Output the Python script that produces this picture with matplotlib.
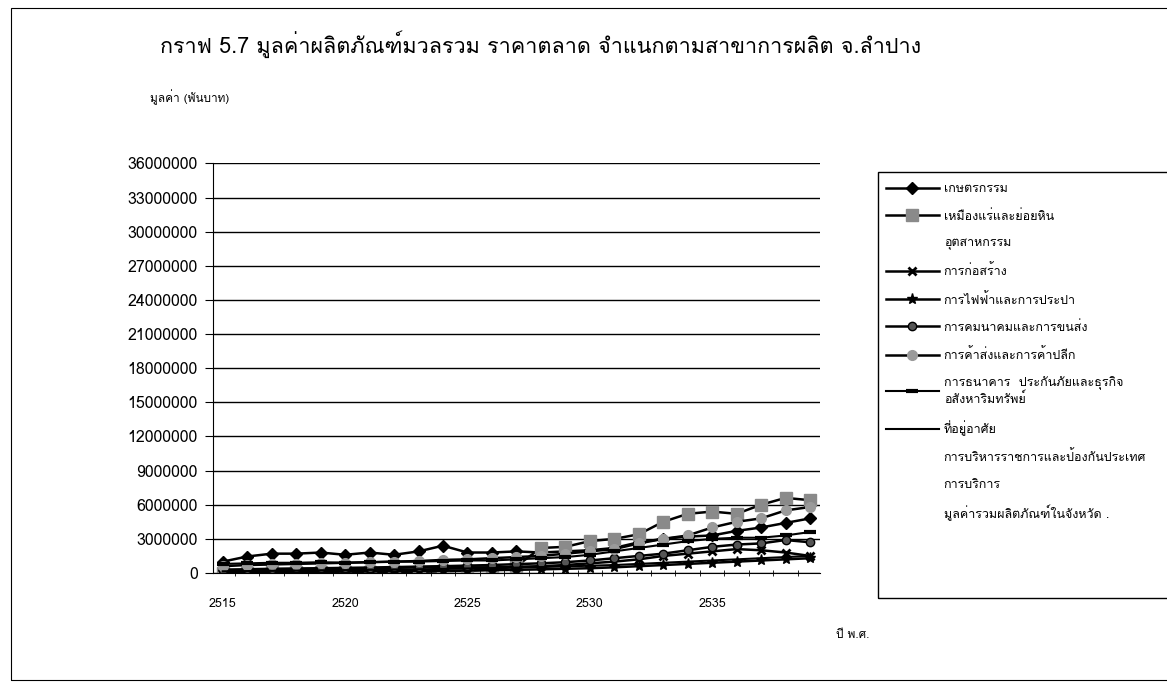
import matplotlib
matplotlib.use("Agg")
from matplotlib import pyplot as plt
from matplotlib import font_manager as fm
from matplotlib.ft2font import FT2Font
from matplotlib.lines import Line2D
from matplotlib.patches import Rectangle


def thai_font():
    """Find an installed family that has Thai glyphs."""
    for f in fm.fontManager.ttflist:
        if "CJK" in f.fname:
            continue
        try:
            if 0x0E01 in FT2Font(f.fname).get_charmap():
                return f.name
        except Exception:
            pass
    return "DejaVu Sans"


thai = thai_font()
plt.rcParams['font.family'] = [thai, 'DejaVu Sans']

# years (Buddhist era)
years = list(range(2515, 2540))

# value (thousand baht) by branch
agri = [1000000, 1450000, 1700000, 1700000, 1800000, 1600000, 1800000, 1600000, 1900000,
        2400000, 1800000, 1800000, 1900000, 1800000, 1900000, 2000000, 2200000, 2700000,
        3000000, 3200000, 3300000, 3700000, 4000000, 4400000, 4800000]
mining = [30000, 40000, 50000, 50000, 60000, 60000, 80000, 90000, 100000, 150000, 200000,
          300000, 600000, 2200000, 2300000, 2800000, 3000000, 3400000, 4500000, 5200000,
          5400000, 5200000, 6000000, 6600000, 6400000]
construction = [200000, 250000, 300000, 300000, 320000, 350000, 400000, 450000, 500000,
                550000, 500000, 500000, 550000, 600000, 700000, 850000, 1000000, 1200000,
                1500000, 1700000, 1900000, 2100000, 2000000, 1800000, 1500000]
electricity = [50000, 60000, 70000, 80000, 100000, 120000, 140000, 160000, 180000, 200000,
               220000, 250000, 280000, 320000, 370000, 420000, 500000, 600000, 700000,
               800000, 900000, 1000000, 1100000, 1200000, 1300000]
transport = [300000, 330000, 370000, 400000, 420000, 450000, 480000, 520000, 560000, 600000,
             650000, 700000, 780000, 850000, 950000, 1100000, 1300000, 1500000, 1700000,
             2000000, 2300000, 2500000, 2600000, 2900000, 2700000]
wholesale = [600000, 700000, 750000, 800000, 850000, 900000, 950000, 1000000, 1050000,
             1150000, 1200000, 1300000, 1400000, 1500000, 1700000, 1900000, 2100000,
             2600000, 3000000, 3300000, 4000000, 4500000, 4800000, 5500000, 5800000]
banking = [800000, 850000, 900000, 900000, 950000, 900000, 950000, 1000000, 1000000,
           1050000, 1100000, 1100000, 1200000, 1300000, 1400000, 1600000, 1900000, 2200000,
           2500000, 2800000, 3000000, 3100000, 3100000, 3300000, 3600000]
dwelling = [150000, 170000, 190000, 210000, 230000, 250000, 280000, 300000, 330000, 360000,
            400000, 430000, 470000, 520000, 580000, 640000, 700000, 800000, 900000, 1000000,
            1100000, 1200000, 1300000, 1400000, 1500000]

labels = ["เกษตรกรรม", "เหมืองแร่และย่อยหิน", "อุตสาหกรรม", "การก่อสร้าง",
          "การไฟฟ้าและการประปา", "การคมนาคมและการขนส่ง", "การค้าส่งและการค้าปลีก",
          "การธนาคาร  ประกันภัยและธุรกิจ\nอสังหาริมทรัพย์", "ที่อยู่อาศัย",
          "การบริหารราชการและป้องกันประเทศ", "การบริการ", "มูลค่ารวมผลิตภัณฑ์ในจังหวัด ."]
y_ticks = list(range(0, 36000001, 3000000))
x_ticks = [2515, 2520, 2525, 2530, 2535]

fig = plt.figure(figsize=(11.67, 6.85), dpi=100)
ax = fig.add_axes([0.1825, 0.1635, 0.52, 0.598])

h_agri, = ax.plot(years, agri, c='black', lw=1.8, marker='D', ms=6)
h_mine, = ax.plot(years, mining, c='black', lw=1.8, marker='s', ms=8,
                  mfc='#8a8a8a', mec='#8a8a8a')
h_cons, = ax.plot(years, construction, c='black', lw=1.8, marker='x', ms=6, mew=2)
h_elec, = ax.plot(years, electricity, c='black', lw=1.8, marker='*', ms=8)
h_tran, = ax.plot(years, transport, c='black', lw=1.8, marker='o', ms=6,
                  mfc='#555555', mec='black')
h_whol, = ax.plot(years, wholesale, c='black', lw=1.8, marker='o', ms=7,
                  mfc='#9a9a9a', mec='#9a9a9a')
h_bank, = ax.plot(years, banking, c='black', lw=1.5, marker='_', ms=9, mew=3)
h_dwel, = ax.plot(years, dwelling, c='black', lw=1.5)
blank = Line2D([], [], ls='none')

ax.set_ylim(0, 36000000)
ax.set_xlim(2514.6, 2539.4)
ax.set_yticks(y_ticks)
ax.set_yticklabels([str(v) for v in y_ticks])
ax.set_xticks(x_ticks)
ax.set_xticks([y + 0.5 for y in years[:-1]], minor=True)
ax.tick_params(axis='y', length=6, labelsize=11.5, pad=5)
ax.tick_params(axis='x', which='major', length=0, labelsize=9, pad=18)
ax.tick_params(axis='x', which='minor', length=4, direction='inout')
ax.yaxis.grid(True, color='black', lw=1.0)
ax.set_axisbelow(True)
for s in ['top', 'right']:
    ax.spines[s].set_visible(False)

handles = [h_agri, h_mine, blank, h_cons, h_elec, h_tran, h_whol, h_bank, h_dwel,
           blank, blank, blank]
leg = fig.legend(handles, labels, loc='upper left', bbox_to_anchor=(0.7535, 0.7415),
                 fontsize=9, handlelength=4.3, labelspacing=1.15, borderpad=0,
                 handletextpad=0.35, frameon=False)
# legend box, runs off the right edge like the scan
fig.patches.append(Rectangle((0.7524, 0.127), 0.3, 0.622, transform=fig.transFigure,
                             fill=False, ec='black', lw=1.0))

fig.text(0.463, 0.936,
         "กราฟ 5.7 มูลค่าผลิตภัณฑ์มวลรวม ราคาตลาด จำแนกตามสาขาการผลิต จ.ลำปาง",
         ha='center', va='center', fontsize=15.5)
fig.text(0.1285, 0.858, "มูลค่า (พันบาท)", fontsize=8.5, va='center')
fig.text(0.716, 0.073, "ปี พ.ศ.", fontsize=8.5, va='center')
fig.patches.append(Rectangle((0.009, 0.007), 1.1, 0.981, transform=fig.transFigure,
                             fill=False, ec='black', lw=0.8))

plt.savefig('out.png', dpi=100)
